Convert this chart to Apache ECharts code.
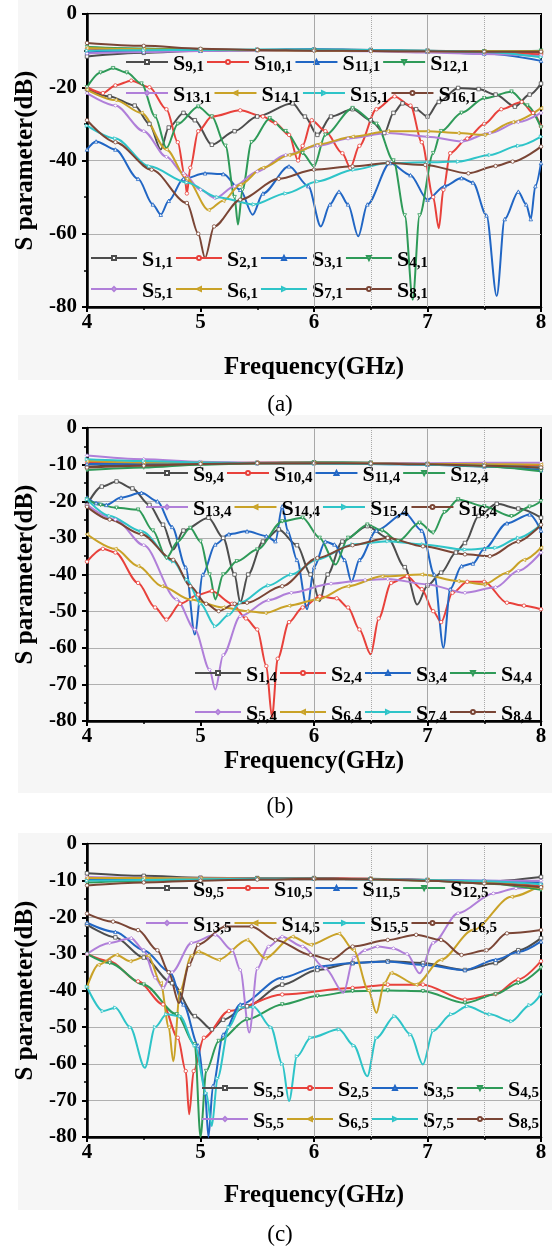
<!DOCTYPE html>
<html><head><meta charset="utf-8">
<script src="https://cdn.jsdelivr.net/npm/echarts/dist/echarts.min.js"></script>
<style>html,body{margin:0;padding:0;background:#fff}#c{width:552px;height:1247px}</style>
</head><body><div id="c"></div><script>
// ---------- data ----------
const xTicks = [4, 5, 6, 7, 8];
const freqTop = [4, 4.5, 5, 5.5, 6, 6.5, 7, 7.5, 8];

// Panel (a): S_{n,1}
const namesA_up = ['S9,1','S10,1','S11,1','S12,1','S13,1','S14,1','S15,1','S16,1'];
const namesA_low = ['S1,1','S2,1','S3,1','S4,1','S5,1','S6,1','S7,1','S8,1'];
const A9  = [-11.6,-10.6,-10.0,-9.8,-9.7,-9.8,-10.0,-10.2,-10.5];
const A10 = [-9.5,-9.7,-9.8,-9.8,-9.9,-10.0,-10.2,-10.5,-11.0];
const A11 = [-10.5,-10.2,-10.0,-9.8,-9.6,-9.8,-10.3,-10.8,-12.8];
const A12 = [-9.0,-9.4,-9.7,-9.9,-9.9,-10.1,-10.3,-10.2,-10.0];
const A13 = [-10.8,-10.4,-10.1,-10.0,-10.0,-10.2,-10.5,-10.9,-11.5];
const A14 = [-9.3,-9.6,-9.8,-9.9,-10.0,-10.1,-10.2,-10.2,-10.2];
const A15 = [-10.0,-9.9,-9.8,-9.7,-9.7,-9.8,-10.0,-10.4,-11.8];
const A16 = [-7.9,-8.7,-9.5,-9.8,-10.0,-10.1,-10.2,-10.3,-10.3];
const A1 = [[4,-20.5],[4.2,-22.5],[4.42,-25],[4.55,-30],[4.65,-37],[4.72,-31],[4.85,-27],[4.95,-29],[5.1,-35.7],[5.3,-32],[5.5,-28],[5.81,-24.4],[5.92,-28],[6.03,-33],[6.15,-28],[6.34,-26],[6.5,-29],[6.62,-32.5],[6.7,-27],[6.78,-24.4],[6.9,-26],[7.0,-28],[7.1,-24],[7.27,-20.2],[7.45,-20.5],[7.6,-22],[7.77,-25.3],[7.9,-22],[8,-19]];
const A2 = [[4,-20],[4.14,-21.6],[4.25,-19.5],[4.39,-18.2],[4.55,-20],[4.7,-26],[4.8,-35],[4.86,-44],[4.88,-49],[4.91,-42],[4.98,-32],[5.1,-28],[5.35,-26.3],[5.55,-28],[5.66,-29.8],[5.78,-33],[5.86,-40],[5.9,-36],[5.98,-29],[6.1,-32],[6.25,-38],[6.32,-42],[6.4,-36],[6.55,-26],[6.71,-22.5],[6.85,-25],[6.95,-35],[7.05,-50],[7.1,-58.5],[7.14,-48],[7.2,-38],[7.35,-34],[7.5,-30],[7.65,-26],[7.83,-24],[7.93,-27],[8,-30.7]];
const A3 = [[4,-37],[4.08,-34.8],[4.25,-37],[4.45,-45],[4.58,-52],[4.65,-54.8],[4.72,-51],[4.85,-45],[5.04,-43.5],[5.2,-43.7],[5.35,-48],[5.46,-54.8],[5.55,-49],[5.78,-41.6],[5.95,-47],[6.06,-58],[6.14,-52],[6.22,-48.5],[6.3,-52],[6.39,-60.7],[6.47,-52],[6.67,-40.7],[6.85,-44],[7.0,-50.7],[7.15,-47],[7.3,-44.8],[7.4,-46],[7.52,-55],[7.61,-77],[7.68,-56],[7.8,-48.5],[7.87,-52],[7.91,-56],[7.95,-47],[8,-40.7]];
const A4 = [[4,-20],[4.12,-16],[4.23,-14.8],[4.35,-16],[4.48,-19],[4.6,-28],[4.7,-36.6],[4.8,-30],[4.98,-25.3],[5.1,-28],[5.22,-36],[5.3,-50],[5.33,-57.5],[5.37,-48],[5.45,-35],[5.61,-28.5],[5.75,-32],[5.9,-38],[6.0,-41.6],[6.1,-33],[6.34,-25.7],[6.55,-30],[6.7,-40],[6.8,-55],[6.87,-78],[6.93,-55],[7.05,-38],[7.12,-32],[7.3,-27],[7.5,-23],[7.74,-21.2],[7.88,-25],[8,-31]];
const A5 = [[4,-21.6],[4.25,-25],[4.5,-32],[4.7,-39],[4.85,-43.5],[5.0,-48],[5.13,-50.3],[5.3,-47],[5.5,-43],[5.75,-38.5],[6.03,-36],[6.3,-34],[6.65,-32.5],[7.0,-33.5],[7.3,-34.8],[7.55,-32.5],[7.8,-29.5],[8,-27]];
const A6 = [[4,-20.7],[4.25,-23.5],[4.48,-27],[4.7,-37],[4.88,-45],[5.07,-53.5],[5.2,-51],[5.35,-46.6],[5.55,-42],[5.78,-38.5],[6.05,-35.5],[6.34,-33.5],[6.65,-32],[7.0,-32],[7.27,-32.5],[7.5,-33],[7.75,-29.5],[8,-25.7]];
const A7 = [[4,-30.5],[4.25,-34],[4.55,-41.6],[4.88,-46],[5.15,-50],[5.47,-52],[5.75,-49],[6.03,-45.7],[6.35,-42.5],[6.65,-40.7],[7.0,-40.5],[7.27,-40.3],[7.55,-38.5],[7.8,-36],[8,-33.5]];
const A8 = [[4,-29],[4.25,-35],[4.57,-42.5],[4.88,-51.6],[4.98,-60],[5.04,-66.6],[5.12,-58],[5.35,-50.7],[5.69,-45],[6.0,-42.5],[6.34,-41.6],[6.65,-40.7],[6.98,-41.2],[7.36,-43.5],[7.6,-41.5],[7.75,-40.3],[8,-36.2]];

// Panel (b): S_{n,4}
const namesB_up = ['S9,4','S10,4','S11,4','S12,4','S13,4','S14,4','S15,4','S16,4'];
const namesB_low = ['S1,4','S2,4','S3,4','S4,4','S5,4','S6,4','S7,4','S8,4'];
const B9  = [-10.5,-10.0,-9.6,-9.5,-9.4,-9.5,-9.8,-10.2,-11.0];
const B10 = [-9.5,-9.6,-9.6,-9.5,-9.5,-9.6,-9.8,-10.0,-10.3];
const B11 = [-9.8,-9.7,-9.6,-9.6,-9.6,-9.8,-10.0,-10.5,-11.5];
const B12 = [-11.5,-10.8,-10.0,-9.6,-9.4,-9.5,-9.9,-10.5,-11.8];
const B13 = [-7.5,-8.5,-9.2,-9.5,-9.6,-9.6,-9.6,-9.5,-9.5];
const B14 = [-9.0,-9.4,-9.5,-9.6,-9.6,-9.7,-9.8,-9.9,-10.0];
const B15 = [-8.5,-9.0,-9.4,-9.6,-9.7,-9.8,-10.0,-10.3,-10.8];
const B16 = [-10.8,-10.3,-9.8,-9.6,-9.6,-9.7,-9.9,-10.3,-10.8];
const B1 = [[4,-21],[4.13,-16],[4.26,-14.6],[4.4,-16.5],[4.55,-21],[4.67,-26.4],[4.76,-33.2],[4.85,-28],[5.07,-24.5],[5.2,-30],[5.3,-40],[5.35,-47.7],[5.42,-40],[5.55,-31],[5.69,-27.7],[5.85,-32],[5.97,-40],[6.05,-47.3],[6.12,-40],[6.25,-31],[6.47,-26.8],[6.65,-30],[6.8,-38],[6.91,-48.2],[7.0,-43],[7.12,-39.5],[7.25,-34],[7.33,-31.4],[7.45,-24],[7.61,-20.7],[7.8,-22],[8,-24.5]];
const B2 = [[4,-36.5],[4.14,-33],[4.25,-34],[4.45,-42.3],[4.6,-49],[4.7,-52.3],[4.82,-48],[4.98,-45.5],[5.1,-44.5],[5.28,-48],[5.4,-52],[5.5,-55],[5.58,-65],[5.63,-79],[5.68,-63],[5.78,-53],[5.9,-49],[6.05,-46],[6.2,-46.5],[6.3,-49],[6.4,-55],[6.5,-61.8],[6.57,-52],[6.68,-42.3],[6.82,-40.5],[6.95,-44],[7.05,-50],[7.12,-53],[7.22,-45],[7.35,-42],[7.5,-42],[7.7,-47.7],[7.85,-48.5],[8,-49.5]];
const B3 = [[4,-19],[4.08,-20.5],[4.17,-21],[4.3,-19],[4.48,-17.7],[4.62,-20],[4.75,-27],[4.87,-38],[4.95,-56.4],[5.02,-40],[5.13,-31.8],[5.25,-29],[5.41,-28.2],[5.58,-29.5],[5.66,-30.9],[5.72,-21.4],[5.77,-28.2],[5.85,-36],[5.94,-49.5],[6.0,-38],[6.1,-31],[6.18,-31.8],[6.27,-36],[6.33,-42],[6.4,-36],[6.55,-28],[6.8,-23.2],[6.95,-28],[7.06,-40],[7.14,-60],[7.2,-44],[7.3,-37.7],[7.4,-37],[7.5,-33],[7.7,-26],[7.9,-23.6],[8,-28]];
const B4 = [[4,-19.5],[4.12,-21],[4.26,-21.8],[4.45,-22.3],[4.58,-28],[4.7,-35.5],[4.8,-31],[4.91,-27.3],[5.0,-31],[5.08,-40],[5.13,-46.8],[5.2,-40],[5.32,-36.4],[5.5,-33.2],[5.72,-25.5],[5.9,-24.5],[6.05,-30],[6.19,-37.3],[6.3,-30],[6.47,-26.4],[6.6,-28],[6.74,-30.9],[6.93,-25.9],[7.05,-28.6],[7.15,-23],[7.27,-19.5],[7.5,-21.4],[7.74,-24.1],[7.9,-21.5],[8,-20]];
const B5 = [[4,-21],[4.25,-25],[4.5,-32],[4.79,-46.8],[4.95,-55],[5.08,-66],[5.13,-71.4],[5.2,-62],[5.35,-51.4],[5.6,-47],[5.8,-45],[6.15,-42.5],[6.45,-41.5],[6.65,-41.2],[7.0,-42.7],[7.33,-45],[7.6,-43.5],[7.8,-39],[8,-34]];
const B6 = [[4,-29],[4.25,-33],[4.45,-37.7],[4.66,-43.2],[4.91,-46.8],[5.2,-49],[5.41,-50],[5.57,-50.5],[5.78,-48.5],[6.03,-46.8],[6.3,-43.2],[6.6,-40.5],[6.95,-40],[7.27,-41.8],[7.5,-42.7],[7.7,-39.5],[7.85,-36],[8,-32.7]];
const B7 = [[4,-19.5],[4.2,-24],[4.48,-28.2],[4.76,-36.4],[4.88,-41.4],[5.0,-48],[5.13,-54.1],[5.25,-51],[5.35,-47.7],[5.6,-43],[5.8,-40],[6.03,-35.9],[6.34,-31.8],[6.65,-30.9],[6.96,-31.8],[7.33,-33.2],[7.6,-32.7],[7.8,-30],[8,-26.4]];
const B8 = [[4,-21.5],[4.2,-25],[4.48,-29],[4.76,-36],[4.91,-43.2],[5.05,-48],[5.16,-50],[5.3,-48],[5.41,-47.7],[5.72,-43.2],[6.03,-35.5],[6.34,-32],[6.65,-30],[6.96,-32.3],[7.33,-34.5],[7.55,-35],[7.8,-31],[8,-26.4]];

// Panel (c): S_{n,5}
const namesC_up = ['S9,5','S10,5','S11,5','S12,5','S13,5','S14,5','S15,5','S16,5'];
const namesC_low = ['S5,5 ','S2,5','S3,5','S4,5','S5,5','S6,5','S7,5','S8,5'];
const C9  = [-8.0,-8.7,-9.2,-9.3,-9.3,-9.5,-9.8,-10.3,-9.0];
const C10 = [-9.5,-9.4,-9.4,-9.4,-9.4,-9.5,-9.8,-10.5,-11.5];
const C11 = [-9.8,-9.6,-9.5,-9.5,-9.5,-9.6,-9.8,-10.0,-10.5];
const C12 = [-10.5,-10.0,-9.7,-9.5,-9.5,-9.6,-10.0,-10.8,-12.5];
const C13 = [-9.0,-9.2,-9.4,-9.5,-9.5,-9.6,-9.8,-10.0,-10.0];
const C14 = [-9.3,-9.3,-9.4,-9.5,-9.5,-9.6,-9.9,-10.5,-12.0];
const C15 = [-10.0,-9.8,-9.6,-9.5,-9.5,-9.6,-9.8,-10.2,-11.0];
const C16 = [-11.3,-10.5,-10.0,-9.7,-9.5,-9.6,-10.0,-10.8,-11.8];
const C1 = [[4,-22],[4.25,-25.5],[4.5,-31],[4.75,-38],[4.95,-47],[5.1,-50.6],[5.2,-48],[5.41,-44.3],[5.72,-38.4],[6.03,-34.4],[6.34,-32.5],[6.65,-32],[6.96,-32.5],[7.33,-34.4],[7.6,-32.5],[7.8,-29],[8,-25.7]];
const C2 = [[4,-30],[4.2,-32],[4.45,-37.5],[4.67,-43.8],[4.8,-52.9],[4.87,-62],[4.9,-73.8],[4.94,-62],[5.03,-52.9],[5.25,-45.6],[5.72,-41.1],[6.34,-39.3],[6.65,-38.4],[6.96,-38.4],[7.33,-42.5],[7.6,-41],[7.8,-37],[8,-32]];
const C3 = [[4,-21.5],[4.25,-24],[4.5,-29],[4.73,-35],[4.85,-43.8],[4.98,-55],[5.04,-68],[5.07,-80],[5.11,-66],[5.2,-52],[5.35,-43.8],[5.72,-36.5],[6.03,-33.5],[6.34,-32.5],[6.65,-32.1],[6.96,-33],[7.33,-34.4],[7.6,-31.6],[7.8,-29.5],[8,-26.6]];
const C4 = [[4,-30],[4.2,-32.5],[4.5,-38.4],[4.79,-46.5],[4.95,-54.7],[5.0,-80],[5.05,-62],[5.16,-53.8],[5.41,-47.9],[5.72,-43.8],[6.03,-41.5],[6.34,-40.2],[6.65,-40],[6.96,-40.2],[7.33,-43.4],[7.6,-41],[7.8,-38],[8,-33.8]];
const C5 = [[4,-30],[4.2,-27],[4.39,-25.7],[4.5,-29],[4.6,-36.5],[4.67,-39.3],[4.75,-35],[4.92,-27],[5.13,-24.8],[5.28,-29],[5.35,-34.4],[5.43,-51.5],[5.5,-34],[5.6,-28],[5.72,-25.3],[5.9,-28],[6.1,-34],[6.26,-40.6],[6.35,-31],[6.45,-29],[6.56,-28],[6.7,-28.5],[6.82,-30],[6.93,-35.3],[7.05,-27],[7.27,-18.9],[7.58,-13.5],[7.78,-12.1],[8,-11.6]];
const C6 = [[4,-39],[4.1,-33],[4.26,-30.3],[4.38,-32],[4.54,-30.5],[4.65,-38],[4.72,-50],[4.76,-59.3],[4.82,-40],[4.92,-30.5],[4.98,-29.4],[5.16,-31.6],[5.41,-26.2],[5.57,-31.2],[5.81,-25.3],[5.97,-27.5],[6.22,-24.5],[6.35,-29],[6.48,-40],[6.55,-46.1],[6.62,-38],[6.68,-35.2],[6.9,-38.4],[7.12,-31.6],[7.4,-23.5],[7.74,-14.4],[8,-11.2]];
const C7 = [[4,-39],[4.14,-45.6],[4.25,-44.7],[4.38,-50],[4.51,-61.1],[4.6,-50],[4.7,-46.5],[4.82,-47],[4.95,-55],[5.05,-68],[5.1,-77],[5.15,-64],[5.25,-50],[5.35,-44.7],[5.47,-44.5],[5.62,-50],[5.72,-60],[5.78,-70.2],[5.85,-58],[5.97,-52.9],[6.22,-50.6],[6.35,-55],[6.47,-63.4],[6.55,-53],[6.71,-47],[6.85,-52],[6.96,-60.2],[7.05,-51],[7.21,-46.5],[7.35,-44.3],[7.55,-46.5],[7.74,-48.4],[7.9,-44],[8,-41]];
const C8 = [[4,-19],[4.23,-21.2],[4.45,-23.5],[4.62,-29],[4.72,-35],[4.81,-43.4],[4.9,-33],[4.98,-27.5],[5.22,-22.5],[5.45,-22.5],[5.66,-26.2],[5.97,-30.3],[6.15,-31.6],[6.34,-28],[6.65,-26.2],[6.9,-24.8],[7.12,-26.2],[7.3,-30.3],[7.52,-29],[7.7,-24.4],[8,-23.5]];

// ---------- styling / layout ----------
const FONT = "'Liberation Serif','Times New Roman',serif";
const colors = ['#4d4d4d','#e8413b','#2166c4','#2e9a58','#b07fd9','#c9a227','#2ec4c8','#7a4535'];
const symbols = ['rect','circle','triangle','path://M0,0L10,0L5,10Z','diamond','path://M10,0L10,10L0,5Z','path://M0,0L0,10L10,5Z','circle'];

const panels = [
  {top:14, interval:20, up:[A9,A10,A11,A12,A13,A14,A15,A16], low:[A1,A2,A3,A4,A5,A6,A7,A8],
   nUp:namesA_up, nLow:namesA_low, legUp:{left:125, y:[66,97], w:42}, legLow:{left:90, y:[262,293], w:46},
   xGap:48, cap:'(a)', capY:405, bg:[0,380]},
  {top:428, interval:10, up:[B9,B10,B11,B12,B13,B14,B15,B16], low:[B1,B2,B3,B4,B5,B6,B7,B8],
   nUp:namesB_up, nLow:namesB_low, legUp:{left:145, y:[477,511], w:42}, legLow:{left:194, y:[677,716], w:46},
   xGap:28, cap:'(b)', capY:807, bg:[415,793]},
  {top:844, interval:10, up:[C9,C10,C11,C12,C13,C14,C15,C16], low:[C1,C2,C3,C4,C5,C6,C7,C8],
   nUp:namesC_up, nLow:namesC_low, legUp:{left:145, y:[892,927], w:42}, legLow:{left:201, y:[1092,1123], w:46},
   xGap:46, cap:'(c)', capY:1235, bg:[833,1210]}
];
const PH = 293, PL = 87, PW = 454;

const grid = [], xAxis = [], yAxis = [], series = [], legend = [], graphic = [];
const fmt = n => '{s|S}{sub|' + n.trim().slice(1) + '}';
const legText = {color:'#000', fontFamily:FONT, fontWeight:'bold',
  rich:{ s:{fontSize:22, fontWeight:'bold', fontFamily:FONT, color:'#000', verticalAlign:'bottom', lineHeight:26},
         sub:{fontSize:15, fontWeight:'bold', fontFamily:FONT, color:'#000', verticalAlign:'bottom', lineHeight:26} }};

// hide the marker on the sharp tip of a resonance dip (style only)
const withMarkers = pts => pts.map((pt, i) => {
  const prev = pts[i-1], next = pts[i+1];
  const tip = prev && next && pt[1] < prev[1] - 5 && pt[1] < next[1] - 5;
  return tip ? {value: pt, symbolSize: 0} : pt;
});

panels.forEach((p, k) => {
  graphic.push({type:'rect', silent:true, z:-10, left:18, top:p.bg[0], shape:{width:534, height:p.bg[1]-p.bg[0]}, style:{fill:'#f6f6f6'}});
  graphic.push({type:'text', silent:true, x:280, y:p.capY, style:{text:p.cap, font:'23px ' + FONT, fill:'#000', align:'center', verticalAlign:'middle', textAlign:'center', textVerticalAlign:'middle'}});
  grid.push({left:PL, top:p.top, width:PW, height:PH, show:true, borderColor:'#000', borderWidth:2, backgroundColor:'transparent', containLabel:false, outerBoundsMode:'none'});
  xAxis.push({type:'value', gridIndex:k, min:xTicks[0], max:xTicks[xTicks.length-1], interval:1,
    name:'Frequency(GHz)', nameLocation:'middle', nameGap:p.xGap,
    nameTextStyle:{fontFamily:FONT, fontWeight:'bold', fontSize:25, color:'#000'},
    axisLine:{show:true, onZero:false, lineStyle:{color:'#000', width:2.5}},
    axisTick:{show:true, inside:false, length:5, lineStyle:{color:'#000', width:2}},
    minorTick:{show:true, splitNumber:2, length:3, lineStyle:{color:'#000', width:1.5}},
    axisLabel:{fontFamily:FONT, fontWeight:'bold', fontSize:21, color:'#000', margin:5},
    splitLine:{show:false}});
  yAxis.push({type:'value', gridIndex:k, min:-80, max:0, interval:p.interval,
    name:'S parameter(dB)', nameLocation:'middle', nameGap:44,
    nameTextStyle:{fontFamily:FONT, fontWeight:'bold', fontSize:25, color:'#000'},
    axisLine:{show:true, onZero:false, lineStyle:{color:'#000', width:2.5}},
    axisTick:{show:true, inside:false, length:5, lineStyle:{color:'#000', width:2}},
    minorTick:{show:true, splitNumber:2, length:3, lineStyle:{color:'#000', width:1.5}},
    axisLabel:{fontFamily:FONT, fontWeight:'bold', fontSize:21, color:'#000', margin:10},
    splitLine:{show:true, lineStyle:{color:'#b0b0b0', width:1}}});
  series.push({name:'grid'+k, type:'line', xAxisIndex:k, yAxisIndex:k, data:[], silent:true, z:1,
    markLine:{silent:true, symbol:['none','none'], label:{show:false}, animation:false,
      lineStyle:{color:'#a8a8a8', width:1, type:'solid'},
      data:[{xAxis:6},{xAxis:7},{xAxis:6.5, lineStyle:{type:'dotted', color:'#a8a8a8'}},{xAxis:7.5, lineStyle:{type:'dotted', color:'#a8a8a8'}}]}});
  const mk = (name, data, i, z) => ({name, type:'line', xAxisIndex:k, yAxisIndex:k, data:withMarkers(data), z,
    smooth:0.3, smoothMonotone:'x', symbol:symbols[i], symbolSize:3.5, showSymbol:true,
    color:colors[i], lineStyle:{color:colors[i], width:2},
    itemStyle:{color:'#fff', borderColor:colors[i], borderWidth:0.8}, emphasis:{disabled:true}});
  p.low.forEach((d, i) => series.push(mk(p.nLow[i], d, i, 2)));
  p.up.forEach((v, i) => series.push(mk(p.nUp[i], freqTop.map((x, j) => [x, v[j]]), i, 3)));
  const leg = (names, cfg, row) => ({data:names.slice(row*4, row*4+4), left:cfg.left, top:cfg.y[row]-13,
    orient:'horizontal', itemWidth:cfg.w, itemHeight:5, itemGap:2, padding:0, selectedMode:false,
    formatter:fmt, textStyle:legText});
  legend.push(leg(p.nUp, p.legUp, 0), leg(p.nUp, p.legUp, 1), leg(p.nLow, p.legLow, 0), leg(p.nLow, p.legLow, 1));
});

const chart = echarts.init(document.getElementById('c'), null, {renderer:'canvas'});
chart.setOption({animation:false, backgroundColor:'#fff', grid, xAxis, yAxis, series, legend, graphic, tooltip:{show:false}});
</script></body></html>
